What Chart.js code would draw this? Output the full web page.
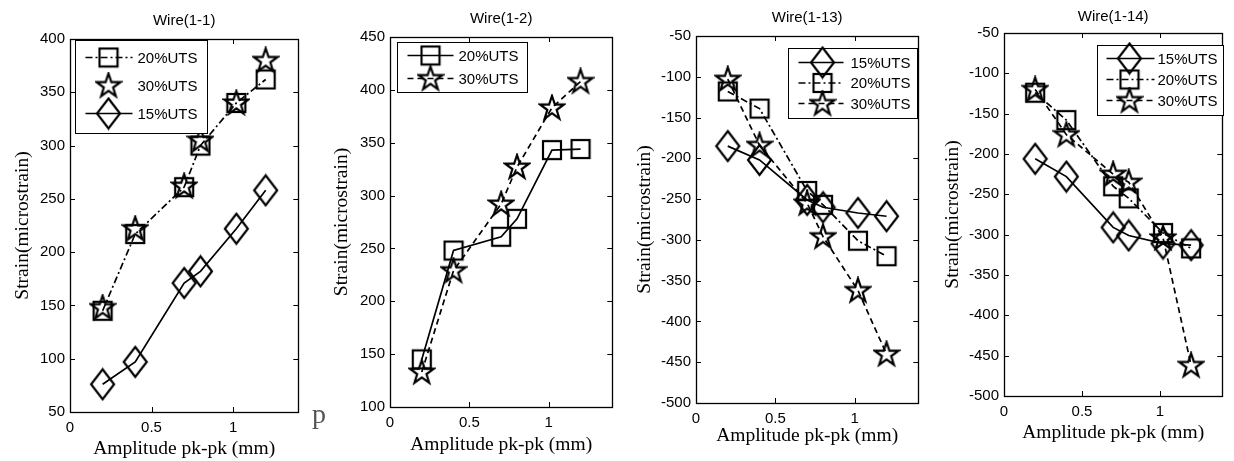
<!DOCTYPE html>
<html>
<head>
<meta charset="utf-8">
<script src="https://cdn.jsdelivr.net/npm/chart.js@4.4.1/dist/chart.umd.min.js"></script>
<style>
html, body { margin: 0; padding: 0; background: #fff; }
body { width: 1234px; height: 461px; position: relative; overflow: hidden; }
.panel { position: absolute; top: 0; height: 461px; }
.stray { position: absolute; left: 312px; top: 398px; font: 28px "Liberation Serif"; color: #555; }
</style>
</head>
<body>
<div class="panel" style="left:0;width:310px"><canvas id="w11"></canvas></div>
<div class="panel" style="left:310px;width:314px"><canvas id="w12"></canvas></div>
<div class="panel" style="left:624px;width:306px"><canvas id="w113"></canvas></div>
<div class="panel" style="left:930px;width:304px"><canvas id="w114"></canvas></div>
<div class="stray">p</div>
<script>
// amplitud pk-pk (mm), la misma en todas las series
const amplitude = [0.2, 0.4, 0.7, 0.8, 1.02, 1.2]
const xTicks = [0, 0.5, 1]

// Wire(1-1)
const w11_uts20 = [145, 217, 261, 300, 340, 362]
const w11_uts30 = [148, 222, 262, 305, 340, 380]
const w11_uts15 = [76, 97, 171, 182, 222, 258]
const yTicks11 = [50, 100, 150, 200, 250, 300, 350, 400]

// Wire(1-2)
const w12_uts20 = [145, 248, 261, 278, 343, 344]
const w12_uts30 = [133, 229, 292, 327, 383, 408]
const yTicks12 = [100, 150, 200, 250, 300, 350, 400, 450]

// Wire(1-13)
const w113_uts15 = [-185, -202, -251, -260, -267, -271]
const w113_uts20 = [-118, -139, -240, -257, -301, -320]
const w113_uts30 = [-103, -184, -255, -296, -362, -440]

// Wire(1-14)
const w114_uts15 = [-206, -228, -291, -301, -311, -313]
const w114_uts20 = [-124, -158, -240, -255, -298, -317]
const w114_uts30 = [-120, -176, -225, -235, -304, -462]
const yTicksNeg = [-500, -450, -400, -350, -300, -250, -200, -150, -100, -50]

// marcadores tipo matlab
const makeMarker = (w, h, draw) => {
    const c = document.createElement('canvas')
    c.width = w
    c.height = h
    const ctx = c.getContext('2d')
    ctx.strokeStyle = '#000'
    ctx.lineWidth = 2.2
    ctx.lineJoin = 'miter'
    draw(ctx)
    return c
}
const squareMark = makeMarker(22, 22, ctx => ctx.strokeRect(2, 2, 18, 18))
const diamondMark = makeMarker(27, 34, ctx => {
    ctx.beginPath()
    ctx.moveTo(13.5, 2)
    ctx.lineTo(25, 17)
    ctx.lineTo(13.5, 32)
    ctx.lineTo(2, 17)
    ctx.closePath()
    ctx.stroke()
})
const starMark = makeMarker(28, 28, ctx => {
    ctx.beginPath()
    for (let i = 0; i < 10; i++) {
        const ang = (-90 + i * 36) * Math.PI / 180
        const r = i % 2 === 0 ? 12.5 : 4.9
        const px = 14 + r * Math.cos(ang)
        const py = 14.5 + r * Math.sin(ang)
        if (i === 0) ctx.moveTo(px, py)
        else ctx.lineTo(px, py)
    }
    ctx.closePath()
    ctx.stroke()
})

const solid = []
const dashDot = [7, 3, 2, 3]
const dashed = [6, 4]

const serie = (label, ys, mark, dash, showLine = true) => ({
    label: label,
    data: amplitude.map((x, i) => ({ x: x, y: ys[i] })),
    pointStyle: mark,
    pointRadius: 10,
    pointHoverRadius: 10,
    borderColor: '#000',
    backgroundColor: 'transparent',
    borderWidth: 1.7,
    borderDash: dash,
    showLine: showLine,
    tension: 0,
    fill: false
})

// caja, ticks internos y leyenda
const matlabBox = {
    id: 'matlabBox',
    afterDatasetsDraw(chart, args, opts) {
        const { ctx, chartArea: a, scales } = chart
        ctx.save()
        ctx.setLineDash([])
        ctx.strokeStyle = '#000'
        ctx.lineWidth = 1
        ctx.beginPath()
        scales.x.ticks.forEach(t => {
            const px = Math.round(scales.x.getPixelForValue(t.value)) + 0.5
            ctx.moveTo(px, a.bottom); ctx.lineTo(px, a.bottom - 5)
            ctx.moveTo(px, a.top); ctx.lineTo(px, a.top + 5)
        })
        scales.y.ticks.forEach(t => {
            const py = Math.round(scales.y.getPixelForValue(t.value)) + 0.5
            ctx.moveTo(a.left, py); ctx.lineTo(a.left + 5, py)
            ctx.moveTo(a.right, py); ctx.lineTo(a.right - 5, py)
        })
        ctx.stroke()
        ctx.lineWidth = 1.3
        ctx.strokeRect(Math.round(a.left) + 0.5, Math.round(a.top) + 0.5, Math.round(a.right - a.left), Math.round(a.bottom - a.top))

        const L = opts.legend
        if (L) {
            const bx = Math.round(a.left + L.dx) + 0.5
            const by = Math.round(a.top + L.dy) + 0.5
            ctx.fillStyle = '#fff'
            ctx.fillRect(bx, by, L.w, L.h)
            ctx.lineWidth = 1
            ctx.strokeRect(bx, by, L.w, L.h)
            ctx.font = '15px "Liberation Sans"'
            ctx.textBaseline = 'middle'
            ctx.textAlign = 'left'
            L.order.forEach((di, k) => {
                const ds = chart.data.datasets[di]
                const ry = by + L.row0 + k * L.rowStep
                if (ds.showLine) {
                    ctx.lineWidth = 1.7
                    ctx.setLineDash(ds.borderDash)
                    ctx.beginPath()
                    ctx.moveTo(bx + L.lineFrom, ry)
                    ctx.lineTo(bx + L.lineTo, ry)
                    ctx.stroke()
                    ctx.setLineDash([])
                }
                const m = ds.pointStyle
                ctx.drawImage(m, bx + L.markX - m.width / 2, ry - m.height / 2)
                ctx.fillStyle = '#000'
                ctx.fillText(ds.label, bx + L.textX, ry + 1)
            })
        }
        ctx.restore()
    }
}

const tickFont = { family: 'Liberation Sans', size: 15 }
const labelFont = { family: 'Liberation Serif', size: 19.5 }

const makeChart = (id, cfg) => new Chart(document.getElementById(id), {
    type: 'scatter',
    data: { datasets: cfg.datasets },
    options: {
        responsive: true,
        maintainAspectRatio: false,
        animation: false,
        events: [],
        layout: { padding: { top: 0, right: cfg.padRight, bottom: 0, left: 0 } },
        plugins: {
            legend: { display: false },
            tooltip: { enabled: false },
            title: {
                display: true,
                text: cfg.title,
                fullSize: false,
                color: '#000',
                font: { family: 'Liberation Sans', size: 15, weight: 'normal' },
                padding: { top: cfg.titleTop, bottom: cfg.titleBottom }
            },
            matlabBox: { legend: cfg.legend }
        },
        scales: {
            x: {
                type: 'linear',
                min: 0,
                max: 1.4,
                afterBuildTicks: s => { s.ticks = xTicks.map(v => ({ value: v })) },
                afterFit: s => { s.height = cfg.xHeight },
                grid: { display: false, drawTicks: false },
                border: { display: false },
                ticks: { color: '#000', padding: 7, font: tickFont, maxRotation: 0, autoSkip: false, callback: v => String(v) },
                title: { display: true, text: 'Amplitude pk-pk (mm)', color: '#000', font: labelFont, padding: { top: 0, bottom: cfg.xTitlePad } }
            },
            y: {
                type: 'linear',
                min: cfg.yTicks[0],
                max: cfg.yTicks[cfg.yTicks.length - 1],
                afterBuildTicks: s => { s.ticks = cfg.yTicks.map(v => ({ value: v })) },
                afterFit: s => { s.width = cfg.yWidth },
                grid: { display: false, drawTicks: false },
                border: { display: false },
                ticks: { color: '#000', padding: 5, font: tickFont, autoSkip: false, callback: v => String(v) },
                title: { display: true, text: 'Strain(microstrain)', color: '#000', font: labelFont, padding: { top: cfg.yTitlePad, bottom: 0 } }
            }
        }
    },
    plugins: [matlabBox]
})

makeChart('w11', {
    title: 'Wire(1-1)',
    datasets: [
        serie('20%UTS', w11_uts20, squareMark, dashDot),
        serie('30%UTS', w11_uts30, starMark, solid, false),
        serie('15%UTS', w11_uts15, diamondMark, solid)
    ],
    yTicks: yTicks11,
    padRight: 5, yWidth: 70, xHeight: 49, xTitlePad: 0, yTitlePad: 11,
    titleTop: 12, titleBottom: 9,
    legend: { order: [0, 1, 2], dx: 5, dy: 1, w: 132, h: 93, row0: 17, rowStep: 28, lineFrom: 10, lineTo: 57, markX: 33, textX: 62 }
})

makeChart('w12', {
    title: 'Wire(1-2)',
    datasets: [
        serie('20%UTS', w12_uts20, squareMark, solid),
        serie('30%UTS', w12_uts30, starMark, dashed)
    ],
    yTicks: yTicks12,
    padRight: 3, yWidth: 80, xHeight: 54, xTitlePad: 4, yTitlePad: 20,
    titleTop: 10, titleBottom: 9,
    legend: { order: [0, 1], dx: 7, dy: 5, w: 130, h: 50, row0: 13, rowStep: 23, lineFrom: 10, lineTo: 56, markX: 33, textX: 61 }
})

makeChart('w113', {
    title: 'Wire(1-13)',
    datasets: [
        serie('15%UTS', w113_uts15, diamondMark, solid),
        serie('20%UTS', w113_uts20, squareMark, dashDot),
        serie('30%UTS', w113_uts30, starMark, dashed)
    ],
    yTicks: yTicksNeg,
    padRight: 3, yWidth: 72, xHeight: 58, xTitlePad: 13, yTitlePad: 9,
    titleTop: 9, titleBottom: 9,
    legend: { order: [0, 1, 2], dx: 92, dy: 12, w: 129, h: 70, row0: 14, rowStep: 20.5, lineFrom: 10, lineTo: 55, markX: 34, textX: 62 }
})

makeChart('w114', {
    title: 'Wire(1-14)',
    datasets: [
        serie('15%UTS', w114_uts15, diamondMark, solid),
        serie('20%UTS', w114_uts20, squareMark, dashDot),
        serie('30%UTS', w114_uts30, starMark, dashed)
    ],
    yTicks: yTicksNeg,
    padRight: 2, yWidth: 74, xHeight: 65, xTitlePad: 16, yTitlePad: 11,
    titleTop: 8, titleBottom: 7,
    legend: { order: [0, 1, 2], dx: 93, dy: 12, w: 126, h: 70, row0: 13, rowStep: 21, lineFrom: 9, lineTo: 57, markX: 32, textX: 60 }
})
</script>
</body>
</html>
